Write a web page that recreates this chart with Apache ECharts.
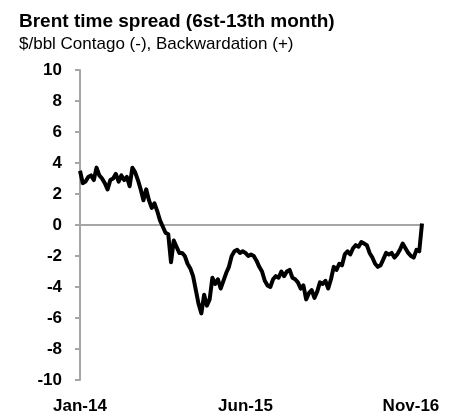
<!DOCTYPE html>
<html>
<head>
<meta charset="utf-8">
<script src="https://cdn.jsdelivr.net/npm/echarts@6/dist/echarts.min.js"></script>
<style>
  html, body { margin: 0; padding: 0; background: #fff; }
  #chart { width: 455px; height: 418px; }
</style>
</head>
<body>
<div id="chart"></div>
<script>
// Brent 6th-13th month spread, $/bbl (Jan-14 .. late Nov-16)
const spread = [
  3.5, 2.7, 2.8, 3.1, 3.2, 2.9, 3.7, 3.2, 3.0, 2.7,
  2.3, 2.9, 3.0, 3.3, 2.8, 3.2, 2.9, 3.1, 2.5, 3.7,
  3.4, 2.9, 2.3, 1.6, 2.3, 1.6, 1.1, 1.4, 0.9, 0.3,
  -0.1, -0.5, -0.6, -2.4, -1.0, -1.4, -1.8, -1.8, -2.0, -2.5,
  -2.8, -3.3, -4.2, -5.1, -5.7, -4.5, -5.2, -4.8, -3.4, -3.8,
  -3.5, -4.1, -3.6, -3.1, -2.7, -2.0, -1.7, -1.6, -1.8, -1.7,
  -1.8, -2.0, -1.9, -2.0, -2.3, -2.7, -3.0, -3.6, -3.9, -4.0,
  -3.5, -3.3, -3.4, -3.0, -3.3, -3.0, -2.9, -3.4, -3.5, -3.7,
  -4.1, -3.9, -4.8, -4.4, -4.2, -4.7, -4.3, -3.7, -3.8, -3.6,
  -4.1, -3.5, -2.7, -2.9, -2.5, -2.6, -1.9, -1.7, -1.9, -1.5,
  -1.3, -1.4, -1.1, -1.2, -1.3, -1.8, -2.1, -2.5, -2.7, -2.6,
  -2.2, -1.8, -1.9, -1.8, -2.1, -1.9, -1.6, -1.2, -1.5, -1.8,
  -2.0, -2.1, -1.6, -1.7, 0.1
]

// x tick labels and the point they sit under
const tickLabels = ['Jan-14', 'Jun-15', 'Nov-16']
const tickIndex = [0, 60, 120]

const yTicks = { min: -10, max: 10, step: 2 }

const categories = spread.map((v, i) => String(i))

const font = "'Liberation Sans', Arial, sans-serif"
const axisGrey = '#a6a6a6'

const chart = echarts.init(document.getElementById('chart'), null, { renderer: 'canvas' })

chart.setOption({
  animation: false,
  title: {
    text: 'Brent time spread (6st-13th month)',
    subtext: '$/bbl Contago (-), Backwardation (+)',
    left: 14,
    top: 7,
    itemGap: 5,
    textStyle: { fontFamily: font, fontSize: 19, fontWeight: 'bold', color: '#000' },
    subtextStyle: { fontFamily: font, fontSize: 17, color: '#000' },
  },
  grid: {
    left: 80,
    right: 33,
    top: 70,
    bottom: 38,
  },
  xAxis: [{
    // zero line
    type: 'category',
    data: categories,
    boundaryGap: false,
    axisLine: { show: true, onZero: true, lineStyle: { color: axisGrey, width: 2 } },
    axisTick: { show: false },
    axisLabel: { show: false },
    splitLine: { show: false },
  }, {
    // labels at the bottom
    type: 'category',
    data: categories,
    boundaryGap: false,
    position: 'bottom',
    axisLine: { show: false, onZero: false },
    axisTick: { show: false },
    splitLine: { show: false },
    axisLabel: {
      interval: (idx) => tickIndex.includes(idx),
      formatter: (val, idx) => tickLabels[tickIndex.indexOf(idx)] || '',
      margin: 18,
      fontFamily: font,
      fontSize: 17,
      fontWeight: 'bold',
      color: '#000',
    },
  }],
  yAxis: {
    type: 'value',
    min: yTicks.min,
    max: yTicks.max,
    interval: yTicks.step,
    axisLine: { show: true, lineStyle: { color: axisGrey, width: 2 } },
    axisTick: { show: true, inside: false, length: 5, lineStyle: { color: axisGrey, width: 2 } },
    splitLine: { show: false },
    axisLabel: {
      margin: 18,
      fontFamily: font,
      fontSize: 17,
      fontWeight: 'bold',
      color: '#000',
    },
  },
  series: [{
    type: 'line',
    xAxisIndex: 0,
    data: spread,
    showSymbol: false,
    lineStyle: { color: '#000', width: 4, join: 'round' },
    z: 5,
  }],
})
</script>
</body>
</html>
